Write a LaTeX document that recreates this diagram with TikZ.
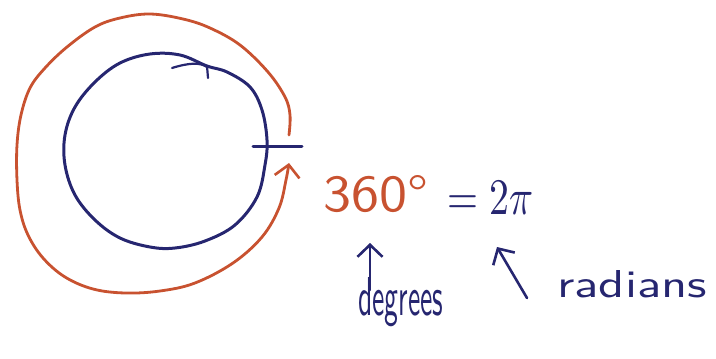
\documentclass[tikz,border=0pt]{standalone}
\usepackage{fontspec}
\usepackage{graphicx}
\usetikzlibrary{arrows.meta}
\definecolor{pred}{RGB}{200,82,48}
\definecolor{pblue}{RGB}{38,38,112}
\tikzset{
  redline/.style={draw=pred,line width=2.8pt,line cap=round,line join=round},
  blueline/.style={draw=pblue,line width=3pt,line cap=round,line join=round},
  headtip/.style={-{Straight Barb[length=12pt,width=25pt,line width=2.6pt]}},
  lbl/.style={inner sep=0pt,anchor=south west,font=\sffamily}
}
\begin{document}
\begin{tikzpicture}[x=1pt,y=-1pt]
\useasboundingbox (0,0) rectangle (716,359);
% blue circle
\draw[blueline] plot[smooth cycle,tension=0.6] coordinates {(207,66) (227,72) (250,87) (262,110) (267,140) (265,165) (257,197) (235,225) (205,241) (175,248) (150,247) (120,238) (95,220) (75,195) (65,165) (65,135) (75,107) (95,82) (120,63) (150,54) (180,55)};
\draw[blueline,line width=2.2pt] (172,68) .. controls (188,63) and (200,62) .. (207,67);
\draw[blueline,line width=2.2pt] (207,66) -- (208,78);
\draw[blueline] (253,146) -- (302,146);
% red loop
\draw[redline,headtip] plot[smooth,tension=0.6] coordinates {(289,135) (290,115) (285,97) (268,72) (240,45) (210,28) (183,19) (150,14) (120,18) (95,27) (67,47) (45,68) (30,88) (21,115) (17,145) (17,180) (20,210) (28,235) (43,258) (65,277) (93,289) (125,293) (160,291) (195,283) (233,263) (262,237) (279,208) (286,180) (289,163)};
% texts
\node[lbl,text=pred] (deg) at (323,213) {\resizebox{105pt}{36pt}{360°}};
\node[lbl,text=pblue] (rad) at (447,215) {\resizebox{86pt}{33pt}{$=2\pi$}};
\node[lbl,text=pblue] (degw) at (358,327) {\resizebox{85pt}{38pt}{degrees}};
\node[lbl,text=pblue] (radw) at (557,298) {\resizebox{150pt}{27pt}{radians}};
% arrows
\coordinate (degtail) at (370,290);
\coordinate (deghead) at (370,243);
\coordinate (radtail) at (527,298);
\coordinate (radhead) at (497,247);
\draw[blueline,headtip,line width=2.6pt] (degtail) -- (deghead);
\draw[blueline,headtip,line width=2.6pt] (radtail) -- (radhead);
\end{tikzpicture}
\end{document}
